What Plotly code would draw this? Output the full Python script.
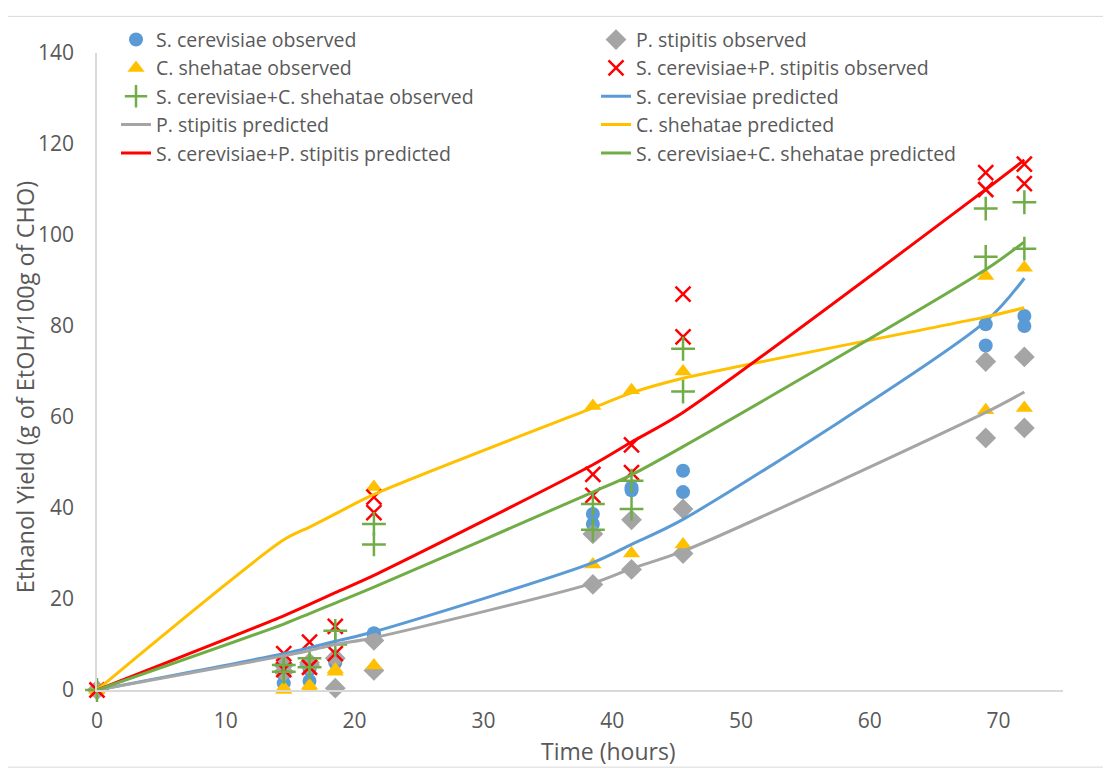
import plotly.graph_objects as go

# ---- data ----
obs_time = [0, 14.5, 14.5, 16.5, 16.5, 18.5, 18.5, 21.5, 21.5, 38.5, 38.5,
            41.5, 41.5, 45.5, 45.5, 69, 69, 72, 72]
sc_obs = [0, 1.5, 3.5, 2, 4.5, 6, 7, 12.5, 12, 38.7, 36.5, 43.9, 44.5, 48.2, 43.5, 80.4, 75.7, 82.2, 80]
ps_obs = [0, 5.5, 4, 5.5, 6, 0.4, 7, 10.9, 4.3, 34.3, 23.2, 37.4, 26.5, 39.8, 30, 72.2, 55.4, 73.2, 57.6]
cs_obs = [0, 0, 0.5, 1, 0.5, 4, 4.5, 44.6, 5.4, 62.4, 27.6, 65.9, 30, 70, 32, 91, 61.5, 92.8, 62]
scps_obs = [0, 8, 4.5, 10.5, 5, 14, 8, 42.4, 39, 47.4, 42.8, 53.9, 47.8, 87, 77.6, 113.7, 110, 115.6, 111.3]
sccs_obs = [0, 5.5, 4, 7, 5, 13, 10, 36.5, 32, 40.9, 35.2, 46, 39.8, 75, 65.6, 105.8, 95.2, 107.2, 97]

pred_time = [0, 14.5, 16.5, 18.5, 21.5, 38.5, 41.5, 45.5, 69, 72]
sc_pred = [0, 8, 9.3, 10.7, 12.8, 28, 32, 37.5, 81, 90.5]
ps_pred = [0, 7.5, 8.7, 10, 11.5, 23.5, 26.7, 30.5, 61, 65.5]
cs_pred = [0, 33, 35.8, 38.7, 43, 62, 65.3, 68.5, 82, 84]
scps_pred = [0, 16.3, 18.8, 21.4, 25.2, 49.5, 54.5, 61, 110, 116.5]
sccs_pred = [0, 14.5, 16.8, 19.1, 22.6, 43.5, 47.3, 53.5, 92.4, 98.5]

x_ticks = [0, 10, 20, 30, 40, 50, 60, 70]
y_ticks = [0, 20, 40, 60, 80, 100, 120, 140]

BLUE, GRAY, YELLOW, RED, GREEN = "#5B9BD5", "#A5A5A5", "#FFC000", "#FF0000", "#70AD47"
TXT = "#595959"
FONT = "Open Sans"

fig = go.Figure()

fig.add_trace(go.Scatter(x=obs_time, y=sc_obs, mode="markers", name="S. cerevisiae observed",
                         marker=dict(symbol="circle", size=14, color=BLUE), cliponaxis=False))
fig.add_trace(go.Scatter(x=obs_time, y=ps_obs, mode="markers", name="P. stipitis observed",
                         marker=dict(symbol="diamond", size=16, color=GRAY), cliponaxis=False))
fig.add_trace(go.Scatter(x=obs_time, y=cs_obs, mode="markers", name="C. shehatae observed",
                         marker=dict(symbol="triangle-up", size=15, color=YELLOW), cliponaxis=False))
fig.add_trace(go.Scatter(x=obs_time, y=scps_obs, mode="markers", name="S. cerevisiae+P. stipitis observed",
                         marker=dict(symbol="x-thin", size=15, color=RED, line=dict(width=2.5, color=RED)),
                         cliponaxis=False))
fig.add_trace(go.Scatter(x=obs_time, y=sccs_obs, mode="markers", name="S. cerevisiae+C. shehatae observed",
                         marker=dict(symbol="cross-thin", size=17, color=GREEN, line=dict(width=2.5, color=GREEN)),
                         cliponaxis=False))

for name, ys, col in [("S. cerevisiae predicted", sc_pred, BLUE),
                      ("P. stipitis predicted", ps_pred, GRAY),
                      ("C. shehatae predicted", cs_pred, YELLOW),
                      ("S. cerevisiae+P. stipitis predicted", scps_pred, RED),
                      ("S. cerevisiae+C. shehatae predicted", sccs_pred, GREEN)]:
    fig.add_trace(go.Scatter(x=pred_time, y=ys, mode="lines", name=name,
                             line=dict(color=col, width=3, shape="spline", smoothing=0.8),
                             cliponaxis=False))

# plot area in window pixel coordinates (page body has an 8px offset)
OFF = 8
WIN_W, WIN_H = 1111, 772
L, R, T, B = 97, 1063, 46, 690
W, H = R - L, B - T

def px(xp):
    return (xp - L) / W

def py(yp):
    return (B - yp) / H

fig.add_shape(type="rect", xref="paper", yref="paper",
              x0=px(3), x1=px(1108), y0=py(768), y1=py(9),
              line=dict(color="#D9D9D9", width=1), fillcolor="rgba(0,0,0,0)", layer="below")

fig.add_annotation(text="Time (hours)", xref="paper", yref="paper", x=px(608), y=py(752),
                   xanchor="center", yanchor="middle", showarrow=False,
                   font=dict(family=FONT, size=23, color=TXT))
fig.add_annotation(text="Ethanol Yield (g of EtOH/100g of CHO)", xref="paper", yref="paper",
                   x=px(25), y=py(384), textangle=-90, xanchor="center", yanchor="middle",
                   showarrow=False, font=dict(family=FONT, size=23.5, color=TXT))

fig.update_layout(
    width=WIN_W - OFF, height=WIN_H - OFF,
    margin=dict(l=L - OFF, r=WIN_W - R, t=T - OFF, b=WIN_H - B),
    paper_bgcolor="white", plot_bgcolor="white",
    font=dict(family=FONT, size=19.5, color=TXT),
    showlegend=True,
    legend=dict(orientation="h", x=px(116), xanchor="left", y=py(13), yanchor="top",
                entrywidth=435, entrywidthmode="pixels", bgcolor="rgba(0,0,0,0)",
                font=dict(family=FONT, size=19.5, color=TXT), tracegroupgap=0),
    xaxis=dict(range=[0, 75], tickvals=x_ticks, showgrid=False, zeroline=False,
               showline=True, linecolor="#D9D9D9", linewidth=1.5, ticks="",
               tickfont=dict(size=21, color=TXT), ticklabelstandoff=11),
    yaxis=dict(range=[0, 140], tickvals=y_ticks, showgrid=False, zeroline=False,
               showline=True, linecolor="#D9D9D9", linewidth=1.5, ticks="",
               tickfont=dict(size=21, color=TXT), ticklabelstandoff=17),
)

fig.write_html("out.html")
